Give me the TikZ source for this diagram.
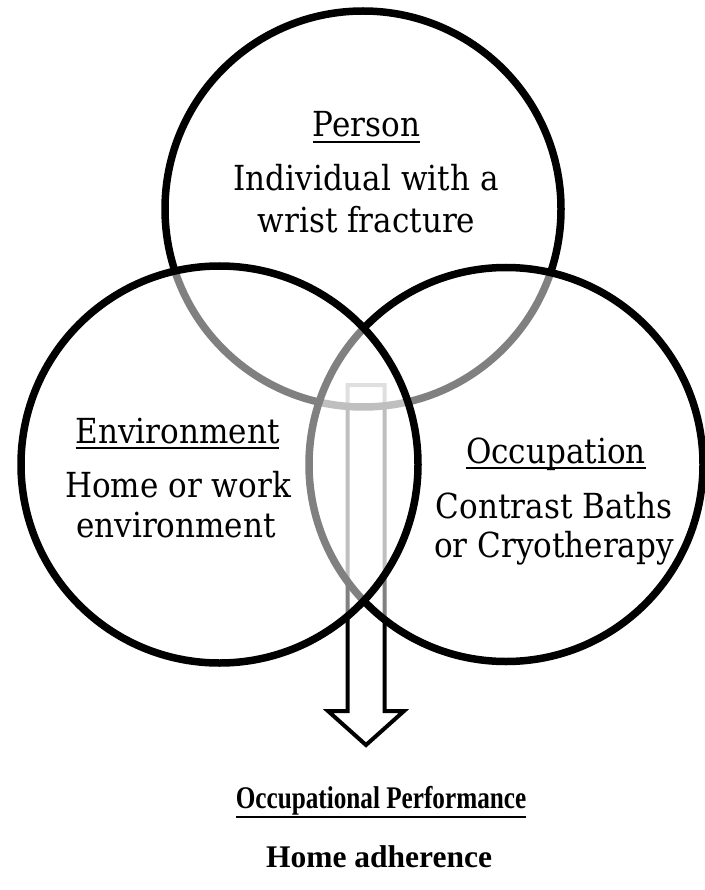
\documentclass[tikz,border=0pt]{standalone}
\usepackage{fontspec}
\setmainfont{Liberation Serif}
\newfontfamily\circfont[FakeStretch=0.9]{DejaVu Serif}
\newsavebox\ulbox
\newcommand\myul[3]{\sbox\ulbox{#3}\rlap{\rule[#1]{\wd\ulbox}{#2}}\usebox\ulbox}
\begin{document}
\begin{tikzpicture}[x=1pt,y=-1pt,
  ring/.style={circle,draw=black,line width=7.5pt,fill=white,fill opacity=0.5,inner sep=0pt,outer sep=0pt},
  arrowshape/.style={draw=black,line width=4pt,line join=miter},
  ctext/.style={anchor=base,inner sep=0pt,font=\circfont\fontsize{34.5}{42}\selectfont},
  btext/.style={anchor=base,inner sep=0pt,font=\bfseries\fontsize{31.5}{38}\selectfont}]
\useasboundingbox (0,0) rectangle (704,890);
% hollow arrow (drawn first, under the circles)
\coordinate (a1) at (347.5,385);
\coordinate (a2) at (347.5,711);
\coordinate (a3) at (328,711);
\coordinate (a4) at (366,745);
\coordinate (a5) at (404,711);
\coordinate (a6) at (384.5,711);
\coordinate (a7) at (384.5,385);
\draw[arrowshape] (a1) -- (a2) -- (a3) -- (a4) -- (a5) -- (a6) -- (a7) -- cycle;
% circles
\node[ring,minimum size=396pt] (person) at (363,209) {};
\node[ring,minimum size=394pt] (occupation) at (506,464.5) {};
\node[ring,minimum size=397pt] (environment) at (219.5,464.5) {};
% texts
\node[ctext] (p1) at (366.5,137) {\myul{-6pt}{1.8pt}{Person}};
\node[ctext] (p2) at (366,191) {Individual with a};
\node[ctext] (p3) at (366.5,233) {wrist fracture};
\node[ctext] (e1) at (177.5,443) {\myul{-6pt}{1.8pt}{Environment}};
\node[ctext] (e2) at (178,497) {Home or work};
\node[ctext] (e3) at (176,537) {environment};
\node[ctext] (o1) at (556,463) {\myul{-6pt}{1.8pt}{Occupation}};
\node[ctext] (o2) at (554,518) {Contrast Baths};
\node[ctext] (o3) at (554,557) {or Cryotherapy};
\node[btext] (b1) at (381,808) {\scalebox{0.8}[1]{\myul{-9.5pt}{2pt}{Occupational Performance}}};
\node[btext] (b2) at (379,867) {Home adherence};
\end{tikzpicture}
\end{document}
